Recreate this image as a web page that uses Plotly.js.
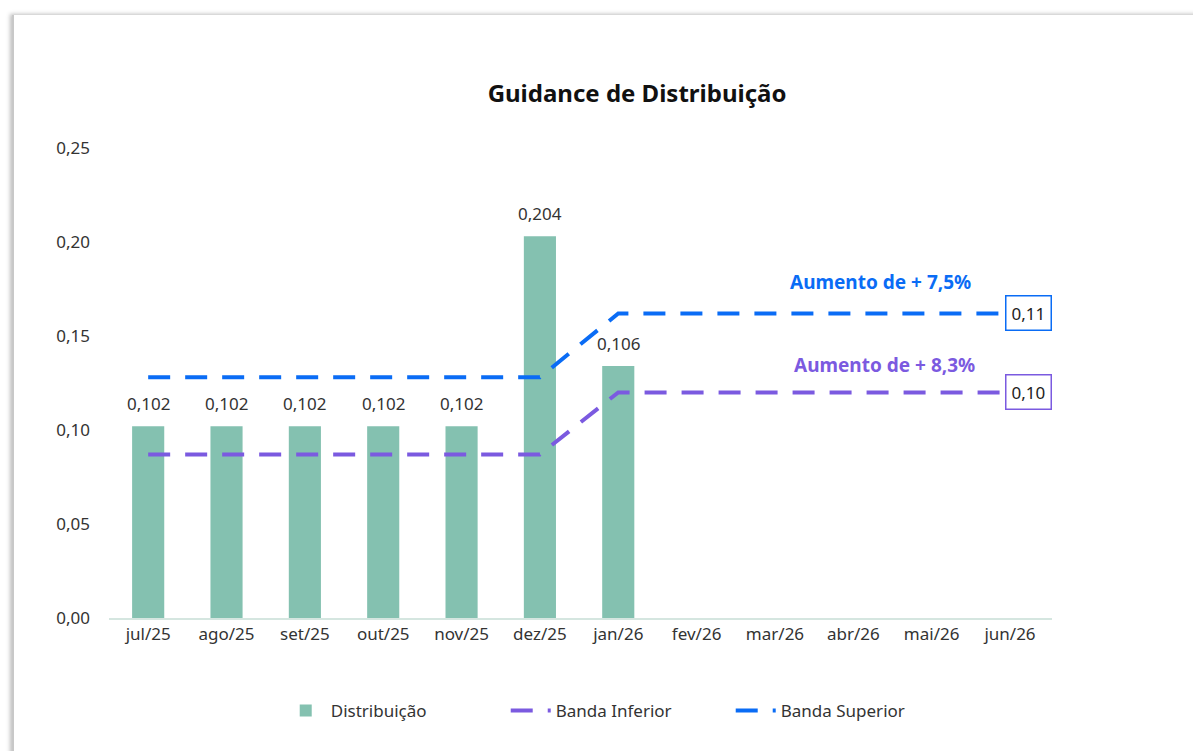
<!DOCTYPE html>
<html>
<head>
<meta charset="utf-8">
<script src="https://cdn.plot.ly/plotly-3.0.1.min.js"></script>
<style>
  html, body { margin: 0; padding: 0; background: #ffffff; }
  #card { position: absolute; left: 12px; top: 15px; width: 1200px; height: 760px;
          background: #ffffff; box-shadow: -2px -1px 4px rgba(0,0,0,0.25); border-left: 2px solid #c8c8c8; }
  #chart { position: absolute; left: 0; top: 0; width: 1193px; height: 751px; }
</style>
</head>
<body>
<div id="card"></div>
<div id="chart"></div>
<script>
const categories = ["jul/25","ago/25","set/25","out/25","nov/25","dez/25","jan/26","fev/26","mar/26","abr/26","mai/26","jun/26"];
const distribuicao = [0.102, 0.102, 0.102, 0.102, 0.102, 0.203, 0.134, null, null, null, null, null];
const distribuicaoLabels = ["0,102","0,102","0,102","0,102","0,102","0,204","0,106","","","","",""];
const bandaInferior = [0.087, 0.087, 0.087, 0.087, 0.087, 0.087, 0.120, 0.120, 0.120, 0.120, 0.120, 0.120];
const bandaSuperior = [0.128, 0.128, 0.128, 0.128, 0.128, 0.128, 0.162, 0.162, 0.162, 0.162, 0.162, 0.162];
const inferiorEndLabel = "0,10";
const superiorEndLabel = "0,11";
const inferiorNote = "Aumento de + 8,3%";
const superiorNote = "Aumento de + 7,5%";

const FONT = "Noto Sans, sans-serif";
const BLUE = "#0A6CF5";
const PURPLE = "#7B5AE0";
const GREEN = "#84C1B0";

const traces = [
  {
    type: "bar", name: "Distribuição", x: categories, y: distribuicao,
    marker: { color: GREEN }, width: 0.41, hoverinfo: "x+y"
  },
  {
    type: "scatter", mode: "lines", name: "Banda Inferior", x: categories, y: bandaInferior,
    line: { color: PURPLE, width: 4, dash: "22px,15px" }
  },
  {
    type: "scatter", mode: "lines", name: "Banda Superior", x: categories, y: bandaSuperior,
    line: { color: BLUE, width: 4, dash: "22px,15px" }
  }
];

const barLabelAnnotations = categories.map((c, i) => distribuicao[i] === null ? null : ({
  x: c, y: distribuicao[i], xref: "x", yref: "y", text: distribuicaoLabels[i],
  showarrow: false, yanchor: "bottom", yshift: 9,
  font: { family: FONT, size: 17, color: "#333333" }
})).filter(a => a !== null);

const last = categories.length - 1;
const layout = {
  width: 1193, height: 751,
  paper_bgcolor: "rgba(0,0,0,0)", plot_bgcolor: "rgba(0,0,0,0)",
  separators: ",.",
  margin: { l: 109, r: 141, t: 148, b: 133 },
  title: { text: "<b>Guidance de Distribuição</b>", x: 0.534, xanchor: "center", y: 0.875, yanchor: "middle",
           font: { family: FONT, size: 24, color: "#111111" } },
  font: { family: FONT, size: 17, color: "#333333" },
  xaxis: {
    type: "category", showgrid: false, zeroline: false,
    showline: true, linecolor: "#D5E6E0", linewidth: 2,
    ticks: "", tickfont: { family: FONT, size: 17, color: "#333333" }
  },
  yaxis: {
    range: [0, 0.25], dtick: 0.05, tickformat: ".2f",
    showgrid: false, zeroline: false, showline: false, ticks: "",
    ticklabelstandoff: 18,
    tickfont: { family: FONT, size: 17, color: "#333333" }
  },
  showlegend: true,
  legend: { orientation: "h", x: 0.54, xanchor: "center", y: -0.198, yanchor: "middle",
            font: { family: FONT, size: 17, color: "#333333" }, traceorder: "normal",
            itemwidth: 40, entrywidth: 170, entrywidthmode: "pixels" },
  annotations: barLabelAnnotations.concat([
    { x: categories[last], y: bandaSuperior[last], xref: "x", yref: "y", text: superiorEndLabel,
      showarrow: false, xanchor: "left", xshift: -5, bordercolor: BLUE, borderwidth: 1.5, borderpad: 5,
      bgcolor: "#ffffff", font: { family: FONT, size: 17, color: "#222222" } },
    { x: categories[last], y: bandaInferior[last], xref: "x", yref: "y", text: inferiorEndLabel,
      showarrow: false, xanchor: "left", xshift: -5, bordercolor: PURPLE, borderwidth: 1.5, borderpad: 5,
      bgcolor: "#ffffff", font: { family: FONT, size: 17, color: "#222222" } },
    { x: 9.35, y: bandaSuperior[last], xref: "x", yref: "y", yshift: 31, text: "<b>" + superiorNote + "</b>",
      showarrow: false, font: { family: FONT, size: 19, color: BLUE } },
    { x: 9.4, y: bandaInferior[last], xref: "x", yref: "y", yshift: 27, text: "<b>" + inferiorNote + "</b>",
      showarrow: false, font: { family: FONT, size: 19, color: PURPLE } }
  ])
};

Plotly.newPlot("chart", traces, layout, { displayModeBar: false, staticPlot: true });
</script>
</body>
</html>
